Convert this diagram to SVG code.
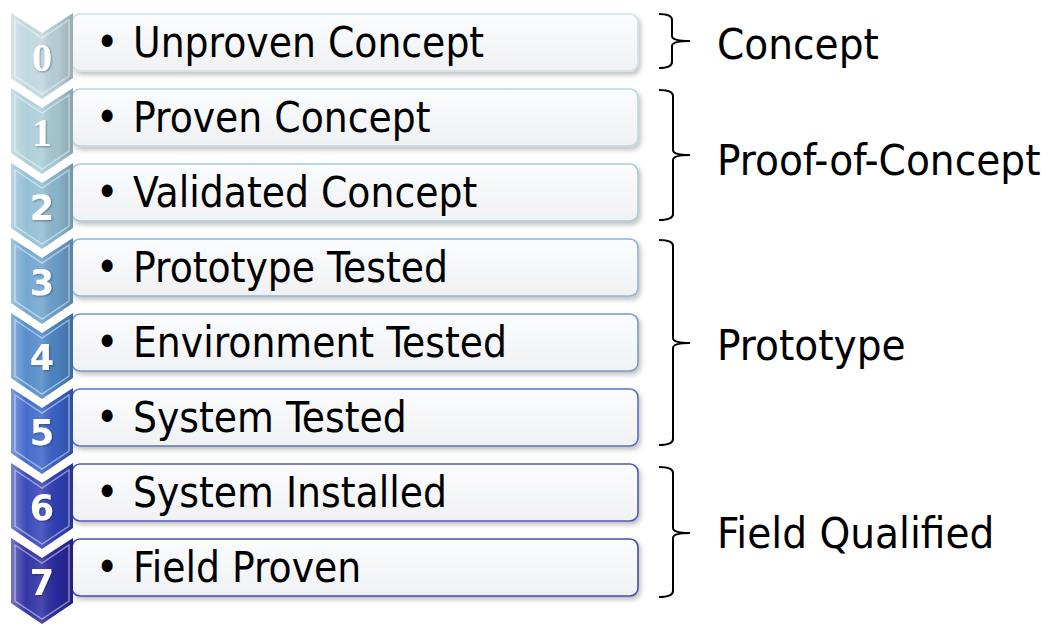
<svg xmlns="http://www.w3.org/2000/svg" width="1049" height="625" viewBox="0 0 1049 625">
<style>
.box{fill:url(#boxg);stroke-width:1.6}
.t{font-family:'DejaVu Sans Condensed','DejaVu Sans',sans-serif;font-stretch:condensed;font-size:42px;fill:#000}
.lb{font-family:'DejaVu Sans Condensed','DejaVu Sans',sans-serif;font-stretch:condensed;font-size:43.5px;fill:#000}
.num{font-family:'DejaVu Sans','Verdana',sans-serif;font-weight:bold;font-size:35px;fill:#fff;text-anchor:middle;filter:url(#tsh)}
.nums{font-family:'Liberation Serif',serif;font-weight:bold;font-size:40px;fill:#fff;text-anchor:middle;filter:url(#tsh)}
.br{fill:none;stroke:#000;stroke-width:2}
.hl{fill:none;stroke:#fff;stroke-opacity:0.45;stroke-width:1.5}
</style>
<defs>
<linearGradient id="boxg" x1="0" y1="0" x2="0" y2="1">
<stop offset="0" stop-color="#fbfcfd"/><stop offset="1" stop-color="#eff1f3"/>
</linearGradient>
<filter id="sh" x="-5%" y="-20%" width="110%" height="150%">
<feDropShadow dx="2" dy="3" stdDeviation="2.5" flood-color="#000" flood-opacity="0.25"/>
</filter>
<filter id="tsh" x="-30%" y="-30%" width="160%" height="160%">
<feDropShadow dx="1" dy="1" stdDeviation="1" flood-color="#000" flood-opacity="0.35"/>
</filter>
<linearGradient id="shade" x1="0" y1="0" x2="1" y2="0">
<stop offset="0" stop-color="#fff" stop-opacity="0.35"/>
<stop offset="0.25" stop-color="#fff" stop-opacity="0.05"/>
<stop offset="0.5" stop-color="#fff" stop-opacity="0.15"/>
<stop offset="0.75" stop-color="#000" stop-opacity="0.05"/>
<stop offset="1" stop-color="#000" stop-opacity="0.2"/>
</linearGradient>
<path id="chev" d="M11,0 L42,20 L73,0 L73,65 L42,86 L11,65 Z"/>
<path id="chevin" d="M15,7 L42,25 L69,7 L69,63 L42,81 L15,63 Z"/>
</defs>

<g id="row0">
<rect class="box" x="72" y="14" width="566" height="57" rx="8" stroke="#cfe0e6" filter="url(#sh)"/>
<g transform="translate(0,13)"><use href="#chev" fill="#bdd6dd"/><use href="#chev" fill="url(#shade)"/><use href="#chevin" class="hl"/></g>
<text class="nums" x="42" y="71">0</text>
<text class="t" y="57"><tspan x="96">•</tspan><tspan x="133">Unproven Concept</tspan></text>
</g>
<g id="row1">
<rect class="box" x="72" y="89" width="566" height="57" rx="8" stroke="#bdd7e0" filter="url(#sh)"/>
<g transform="translate(0,88)"><use href="#chev" fill="#aacdd8"/><use href="#chev" fill="url(#shade)"/><use href="#chevin" class="hl"/></g>
<text class="nums" x="42" y="146">1</text>
<text class="t" y="132"><tspan x="96">•</tspan><tspan x="133">Proven Concept</tspan></text>
</g>
<g id="row2">
<rect class="box" x="72" y="164" width="566" height="57" rx="8" stroke="#a8cadb" filter="url(#sh)"/>
<g transform="translate(0,163)"><use href="#chev" fill="#8fbcd3"/><use href="#chev" fill="url(#shade)"/><use href="#chevin" class="hl"/></g>
<text class="num" x="42" y="220">2</text>
<text class="t" y="207"><tspan x="96">•</tspan><tspan x="133">Validated Concept</tspan></text>
</g>
<g id="row3">
<rect class="box" x="72" y="239" width="566" height="57" rx="8" stroke="#8fb5d8" filter="url(#sh)"/>
<g transform="translate(0,238)"><use href="#chev" fill="#6ea3cf"/><use href="#chev" fill="url(#shade)"/><use href="#chevin" class="hl"/></g>
<text class="num" x="42" y="295">3</text>
<text class="t" y="282"><tspan x="96">•</tspan><tspan x="133">Prototype Tested</tspan></text>
</g>
<g id="row4">
<rect class="box" x="72" y="314" width="566" height="57" rx="8" stroke="#7699d0" filter="url(#sh)"/>
<g transform="translate(0,313)"><use href="#chev" fill="#4e87c8"/><use href="#chev" fill="url(#shade)"/><use href="#chevin" class="hl"/></g>
<text class="num" x="42" y="370">4</text>
<text class="t" y="357"><tspan x="96">•</tspan><tspan x="133">Environment Tested</tspan></text>
</g>
<g id="row5">
<rect class="box" x="72" y="389" width="566" height="57" rx="8" stroke="#5c70c4" filter="url(#sh)"/>
<g transform="translate(0,388)"><use href="#chev" fill="#3b63c9"/><use href="#chev" fill="url(#shade)"/><use href="#chevin" class="hl"/></g>
<text class="num" x="42" y="445">5</text>
<text class="t" y="432"><tspan x="96">•</tspan><tspan x="133">System Tested</tspan></text>
</g>
<g id="row6">
<rect class="box" x="72" y="464" width="566" height="57" rx="8" stroke="#5057b8" filter="url(#sh)"/>
<g transform="translate(0,463)"><use href="#chev" fill="#3141b8"/><use href="#chev" fill="url(#shade)"/><use href="#chevin" class="hl"/></g>
<text class="num" x="42" y="520">6</text>
<text class="t" y="507"><tspan x="96">•</tspan><tspan x="133">System Installed</tspan></text>
</g>
<g id="row7">
<rect class="box" x="72" y="539" width="566" height="57" rx="8" stroke="#4848b0" filter="url(#sh)"/>
<g transform="translate(0,538)"><use href="#chev" fill="#2a2aa2"/><use href="#chev" fill="url(#shade)"/><use href="#chevin" class="hl"/></g>
<text class="num" x="42" y="595">7</text>
<text class="t" y="582"><tspan x="96">•</tspan><tspan x="133">Field Proven</tspan></text>
</g>

<g id="braces">
<path class="br" d="M659,14 Q672,14 672,20 L672,36 Q672,41 690,41 Q672,41 672,46 L672,62 Q672,68 659,68"/>
<path class="br" d="M659,90 Q673,90 673,96 L673,150 Q673,155 690,155 Q673,155 673,160 L673,214 Q673,220 659,220"/>
<path class="br" d="M659,240 Q673,240 673,246 L673,338 Q673,343 690,343 Q673,343 673,348 L673,439 Q673,445 659,445"/>
<path class="br" d="M659,467 Q673,467 673,473 L673,528 Q673,533 690,533 Q673,533 673,538 L673,591 Q673,597 659,597"/>
</g>
<g id="labels">
<text class="lb" x="717" y="59">Concept</text>
<text class="lb" x="717" y="175">Proof-of-Concept</text>
<text class="lb" x="717" y="360">Prototype</text>
<text class="lb" x="717" y="548">Field Qualified</text>
</g>
</svg>
